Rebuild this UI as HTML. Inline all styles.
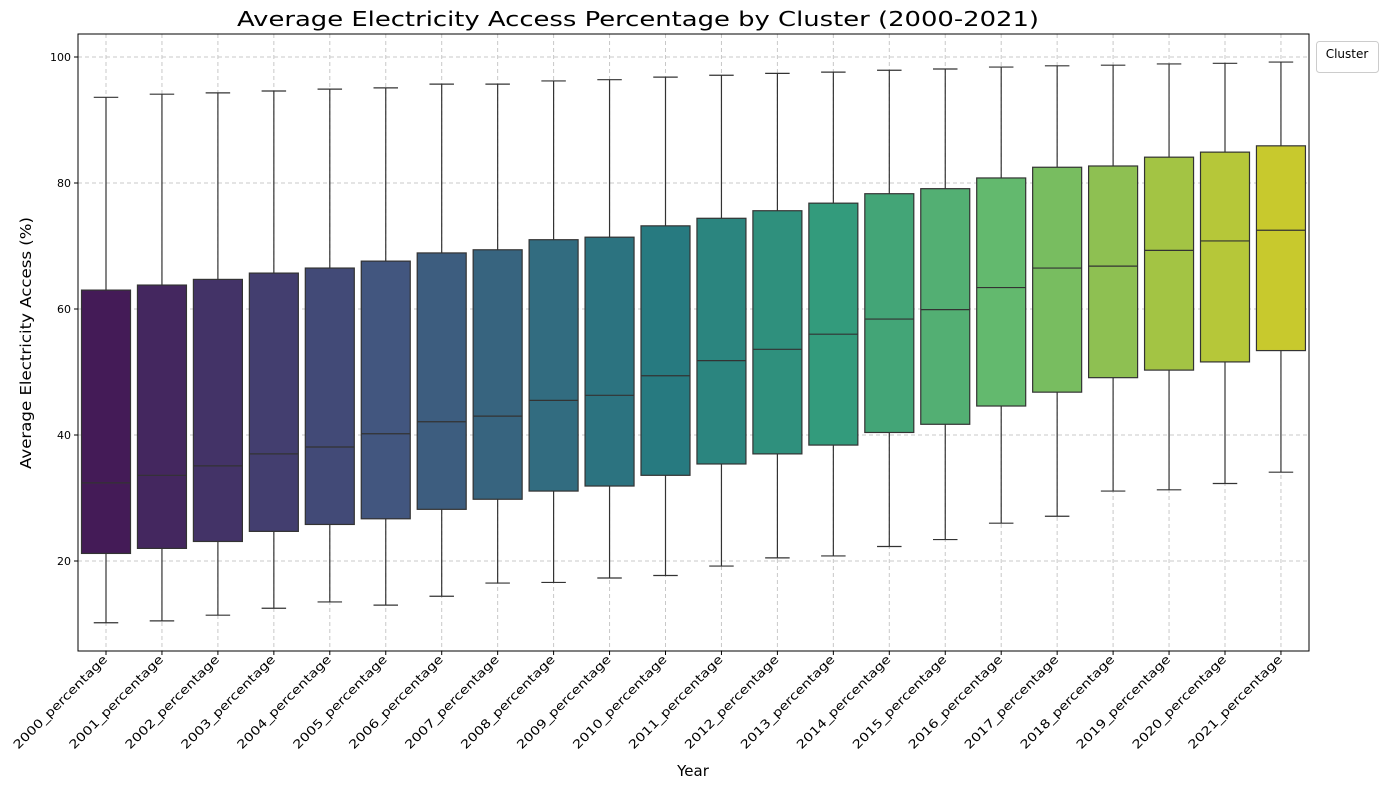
<!DOCTYPE html>
<html><head><meta charset="utf-8"><style>
body{margin:0;background:#fff;font-family:"DejaVu Sans","Liberation Sans",sans-serif}
</style></head><body>
<svg id="c" width="1386" height="790" xmlns="http://www.w3.org/2000/svg" font-family="DejaVu Sans, Liberation Sans, sans-serif">
<text x="638" y="26" text-anchor="middle" font-size="20" textLength="802" lengthAdjust="spacingAndGlyphs" fill="#000">Average Electricity Access Percentage by Cluster (2000-2021)</text>
<text x="693" y="776" text-anchor="middle" font-size="15">Year</text>
<text transform="translate(31,343) rotate(-90)" text-anchor="middle" font-size="15" textLength="252" lengthAdjust="spacingAndGlyphs">Average Electricity Access (%)</text>
<g id="grid"></g><g id="boxes"></g><g id="ticks"></g>
<rect x="78" y="34" width="1231" height="617" fill="none" stroke="#000" stroke-width="1"/>
<g>
<rect x="1316.5" y="41.5" width="62" height="31" rx="3" fill="#fff" stroke="#ccc"/>
<text x="1347" y="58" text-anchor="middle" font-size="12">Cluster</text>
</g>
</svg>
<script>
const categories=["2000","2001","2002","2003","2004","2005","2006","2007","2008","2009","2010","2011","2012","2013","2014","2015","2016","2017","2018","2019","2020","2021"];
const whiskerLow=[10.2,10.5,11.4,12.5,13.5,13,14.4,16.5,16.6,17.3,17.7,19.2,20.5,20.8,22.3,23.4,26,27.1,31.1,31.3,32.3,34.1];
const q1=[21.2,22,23.1,24.7,25.8,26.7,28.2,29.8,31.1,31.9,33.6,35.4,37,38.4,40.4,41.7,44.6,46.8,49.1,50.3,51.6,53.4];
const median=[32.4,33.6,35.1,37,38.1,40.2,42.1,43,45.5,46.3,49.4,51.8,53.6,56,58.4,59.9,63.4,66.5,66.8,69.3,70.8,72.5];
const q3=[63,63.8,64.7,65.7,66.5,67.6,68.9,69.4,71,71.4,73.2,74.4,75.6,76.8,78.3,79.1,80.8,82.5,82.7,84.1,84.9,85.9];
const whiskerHigh=[93.6,94.1,94.3,94.6,94.9,95.1,95.7,95.7,96.2,96.4,96.8,97.1,97.4,97.6,97.9,98.1,98.4,98.6,98.7,98.9,99.0,99.2];
const yTicks=[20,40,60,80,100];
const NS="http://www.w3.org/2000/svg";
const y=v=>687-v*6.3;
const x=i=>106+i*55.95;
const anchors=[[0,[68,27,87]],[5,[66,86,127]],[10,[39,122,128]],[13,[51,155,124]],[16,[99,185,110]],[19,[163,196,68]],[21,[200,201,45]]];
function col(i){for(let k=0;k<anchors.length-1;k++){const [a,ca]=anchors[k],[b,cb]=anchors[k+1];if(i>=a&&i<=b){const t=(i-a)/(b-a);return "rgb("+ca.map((c,j)=>Math.round(c+(cb[j]-c)*t)).join(",")+")";}}}
function mk(t,at,p){const e=document.createElementNS(NS,t);for(const k in at)e.setAttribute(k,at[k]);p.appendChild(e);return e;}
const g=document.getElementById('grid'),bx=document.getElementById('boxes'),tk=document.getElementById('ticks');
yTicks.forEach(v=>{
 const l=mk('line',{x1:78,x2:1309,y1:y(v),y2:y(v),stroke:'#c8c8c8','stroke-dasharray':'4,3'},g);
 
 mk('line',{x1:74,x2:78,y1:y(v),y2:y(v),stroke:'#000'},tk);
 const t=mk('text',{x:71,y:y(v)+4,'text-anchor':'end','font-size':11},tk);t.textContent=v;
 
});
categories.forEach((c,i)=>{
 const cx=x(i);
 const vl=mk('line',{x1:cx,x2:cx,y1:34,y2:651,stroke:'#c8c8c8','stroke-dasharray':'4,3'},g);
 
 const grp=mk('g',{},bx);
 
 const w=49;
 mk('line',{x1:cx,x2:cx,y1:y(whiskerLow[i]),y2:y(q1[i]),stroke:'#333','stroke-width':1.2},grp);
 mk('line',{x1:cx,x2:cx,y1:y(q3[i]),y2:y(whiskerHigh[i]),stroke:'#333','stroke-width':1.2},grp);
 mk('line',{x1:cx-w/4,x2:cx+w/4,y1:y(whiskerLow[i]),y2:y(whiskerLow[i]),stroke:'#333','stroke-width':1.2},grp);
 mk('line',{x1:cx-w/4,x2:cx+w/4,y1:y(whiskerHigh[i]),y2:y(whiskerHigh[i]),stroke:'#333','stroke-width':1.2},grp);
 mk('rect',{x:cx-w/2,y:y(q3[i]),width:w,height:y(q1[i])-y(q3[i]),fill:col(i),stroke:'#333','stroke-width':1.2},grp);
 mk('line',{x1:cx-w/2,x2:cx+w/2,y1:y(median[i]),y2:y(median[i]),stroke:'#333','stroke-width':1.2},grp);
 mk('line',{x1:cx,x2:cx,y1:651,y2:655,stroke:'#000'},tk);
 const t=mk('text',{transform:`translate(${cx+2},${660}) rotate(-45)`,'text-anchor':'end','font-size':12,textLength:127,lengthAdjust:'spacingAndGlyphs'},tk);
 t.textContent=c+'_percentage';
 
});
</script>
</body></html>
